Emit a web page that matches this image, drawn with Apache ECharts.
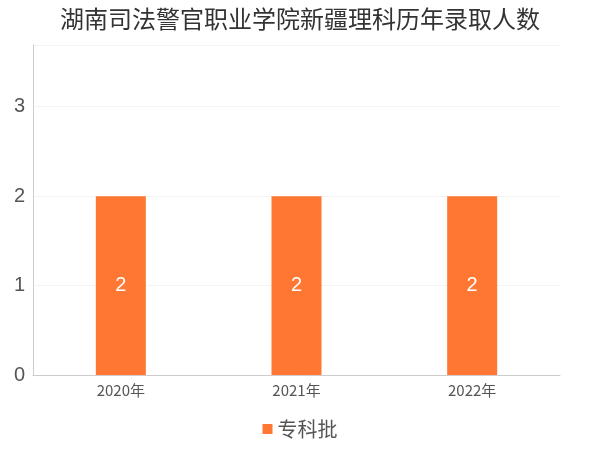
<!DOCTYPE html>
<html><head><meta charset="utf-8">
<script src="https://cdn.jsdelivr.net/npm/echarts@6/dist/echarts.min.js"></script>
</head><body style="margin:0">
<div id="c" style="width:600px;height:450px"></div>
<script>
const categories = ['2020年','2021年','2022年'];
const values = [2,2,2];
const yTicks = [0,1,2,3];
const chart = echarts.init(document.getElementById('c'));
chart.setOption({
  title:{text:'湖南司法警官职业学院新疆理科历年录取人数',left:'center',top:2,textStyle:{fontSize:24,fontWeight:'normal',color:'#333',fontFamily:'Noto Sans CJK SC'}},
  grid:{left:33,right:40,top:45,bottom:75},
  legend:{bottom:6,itemWidth:10,itemHeight:10,icon:'rect',textStyle:{fontSize:20,color:'#555',fontFamily:'Noto Sans CJK SC'},data:['专科批']},
  xAxis:{type:'category',data:categories,axisTick:{show:false},axisLine:{lineStyle:{color:'#ccc'}},axisLabel:{fontSize:15,color:'#555',fontFamily:'Noto Sans CJK SC'}},
  yAxis:{type:'value',min:0,max:3.69,interval:1,axisLine:{show:true,lineStyle:{color:'#ccc'}},
    splitLine:{lineStyle:{color:'#f3f3f3'}},
    axisLabel:{fontSize:20,color:'#555',formatter:v=>yTicks.includes(v)?String(v):''}},
  series:[{name:'专科批',type:'bar',data:values,barWidth:50,itemStyle:{color:'#FF7733'},
    label:{show:true,position:'inside',color:'#fff',fontSize:20}}]
});
</script></body></html>
